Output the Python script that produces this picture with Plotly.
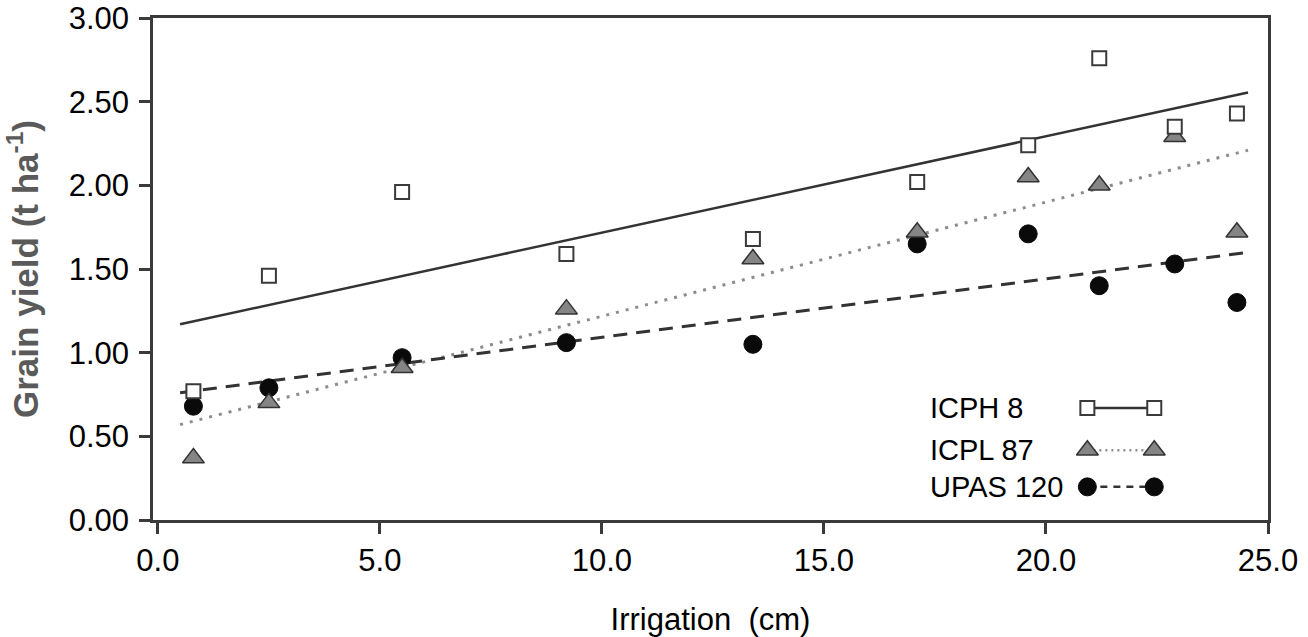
import plotly.graph_objects as go

# ---- data ----
irrigation = [0.8, 2.5, 5.5, 9.2, 13.4, 17.1, 19.6, 21.2, 22.9, 24.3]
icph8 = [0.77, 1.46, 1.96, 1.59, 1.68, 2.02, 2.24, 2.76, 2.35, 2.43]
icpl87 = [0.37, 0.70, 0.91, 1.26, 1.56, 1.72, 2.05, 2.00, 2.29, 1.72]
upas120 = [0.68, 0.79, 0.97, 1.06, 1.05, 1.65, 1.71, 1.40, 1.53, 1.30]

trend_x = [0.5, 24.55]
icph8_trend = [1.17, 2.555]
icpl87_trend = [0.57, 2.21]
upas120_trend = [0.76, 1.60]

series_names = ["ICPH 8", "ICPL 87", "UPAS 120"]
x_ticks = [0, 5, 10, 15, 20, 25]
y_ticks = [0, 0.5, 1.0, 1.5, 2.0, 2.5, 3.0]

FONT = "Liberation Sans, Arial, sans-serif"
AX = "#3a3a3a"

sq = dict(symbol="square", size=14, color="white", line=dict(color="#3a3a3a", width=2))
tri = dict(symbol="triangle-up", size=19, color="#858585", line=dict(color="#333333", width=1.5))
cir = dict(symbol="circle", size=18, color="#0a0a0a", line=dict(color="#0a0a0a", width=1))

l_solid = dict(color="#333333", width=2.5)
l_dot = dict(color="#8c8c8c", width=3, dash="3px,7px")
l_dash = dict(color="#333333", width=3, dash="14px,9px")

fig = go.Figure()

# regression lines
fig.add_trace(go.Scatter(x=trend_x, y=icph8_trend, mode="lines", line=l_solid, showlegend=False))
fig.add_trace(go.Scatter(x=trend_x, y=icpl87_trend, mode="lines", line=l_dot, showlegend=False))
fig.add_trace(go.Scatter(x=trend_x, y=upas120_trend, mode="lines", line=l_dash, showlegend=False))

# points
fig.add_trace(go.Scatter(x=irrigation, y=upas120, mode="markers", marker=cir, showlegend=False))
fig.add_trace(go.Scatter(x=irrigation, y=icpl87, mode="markers", marker=tri, showlegend=False))
fig.add_trace(go.Scatter(x=irrigation, y=icph8, mode="markers", marker=sq, showlegend=False))

# custom legend (text left, marker-line-marker right), drawn on a helper axis in plot fractions
leg_x = [0.838, 0.898]
leg_rows = [0.223, 0.139, 0.066]
leg_styles = [(sq, l_solid), (tri, dict(color="#8c8c8c", width=2.5, dash="2px,4px")),
              (cir, dict(color="#333333", width=2.5, dash="7px,6px"))]
for name, yy, (mk, ln) in zip(series_names, leg_rows, leg_styles):
    fig.add_trace(go.Scatter(x=leg_x, y=[yy, yy], mode="lines+markers", marker=mk, line=ln,
                             xaxis="x2", yaxis="y2", showlegend=False))
    fig.add_annotation(x=0.695, y=yy, xref="paper", yref="paper", text=name, showarrow=False,
                       xanchor="left", yanchor="middle", font=dict(family=FONT, size=29, color="black"))

fig.update_layout(
    width=1308, height=637,
    margin=dict(l=153, r=40, t=18, b=117, autoexpand=False),
    paper_bgcolor="white", plot_bgcolor="white",
    showlegend=False,
    font=dict(family=FONT, color="black"),
    xaxis=dict(range=[-0.11, 25.0], tickvals=x_ticks, tickformat=".1f", automargin=False,
               showgrid=False, zeroline=False, showline=True, linecolor=AX, linewidth=2.5,
               mirror=True, ticks="outside", ticklen=11, tickwidth=2.5, tickcolor=AX,
               tickfont=dict(family=FONT, size=31, color="black"),
               title=dict(text="Irrigation  (cm)", font=dict(family=FONT, size=31, color="black"),
                          standoff=32)),
    yaxis=dict(range=[0, 3.0], tickvals=y_ticks, tickformat=".2f", automargin=False,
               showgrid=False, zeroline=False, showline=True, linecolor=AX, linewidth=2.5,
               mirror=True, ticks="outside", ticklen=11, tickwidth=2.5, tickcolor=AX,
               ticklabelstandoff=4,
               tickfont=dict(family=FONT, size=31, color="black"),
               title=dict(text="<b>Grain yield (t ha<sup>-1</sup>)</b>",
                          font=dict(family=FONT, size=35, color="#5a5a5a"), standoff=20)),
    xaxis2=dict(overlaying="x", range=[0, 1], visible=False, fixedrange=True),
    yaxis2=dict(overlaying="y", range=[0, 1], visible=False, fixedrange=True),
)

# remove the default 8px page margin so the figure fills the window exactly
fig.write_html("out.html", config={"displayModeBar": False},
               post_script="document.body.style.margin='0';")
